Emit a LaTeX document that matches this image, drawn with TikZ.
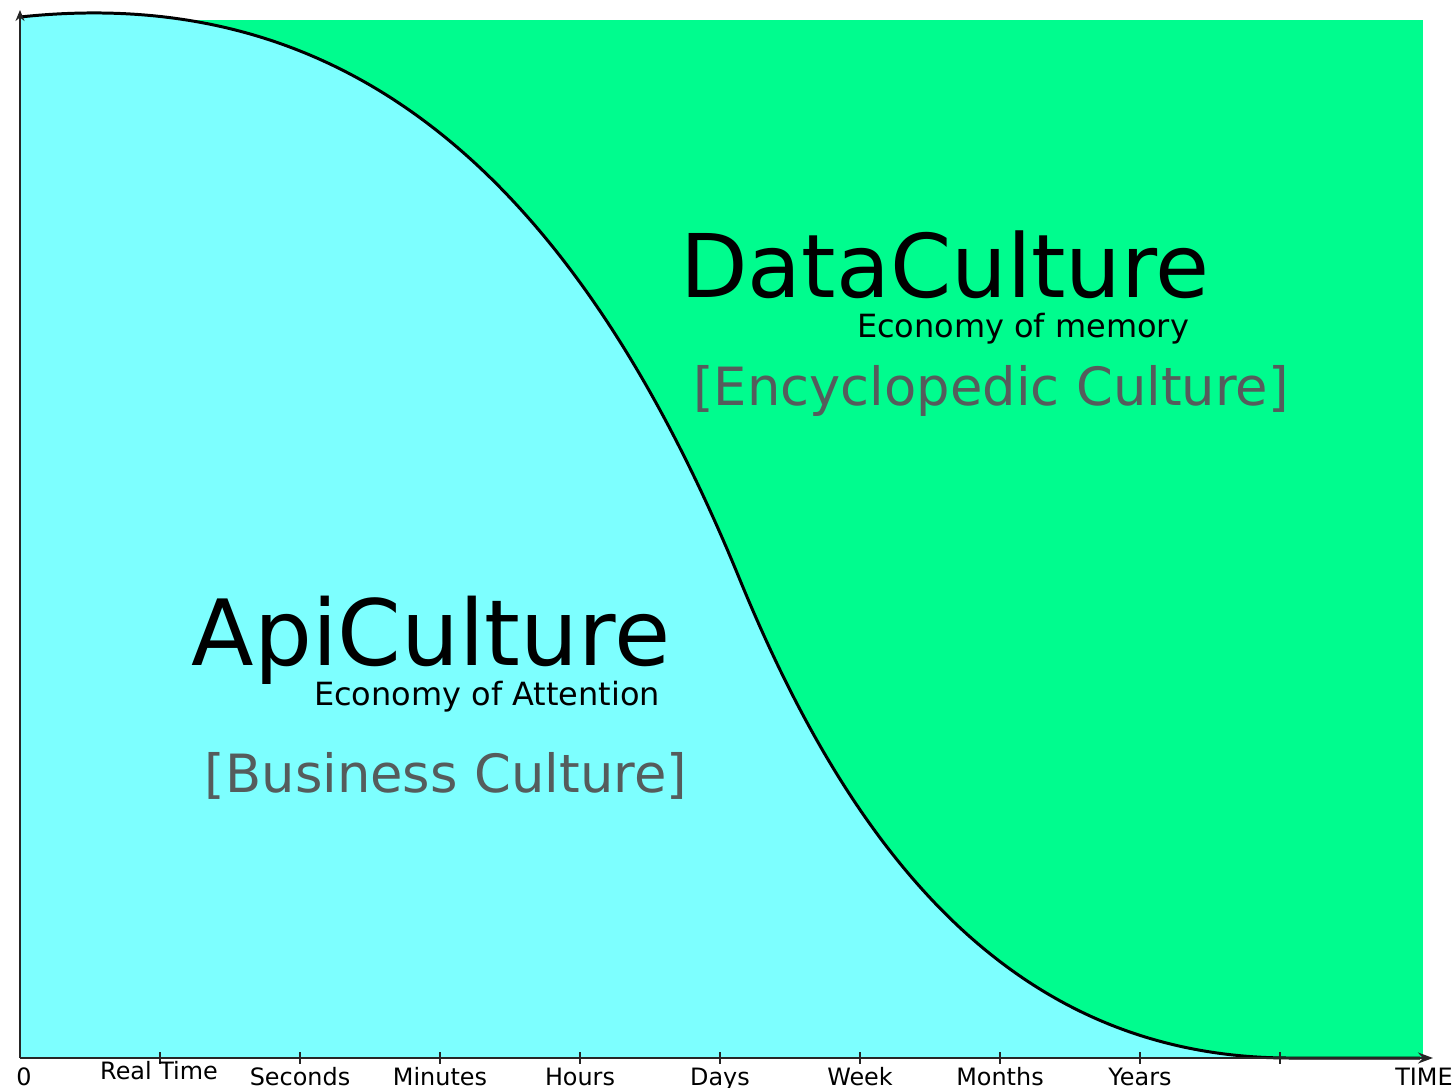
\documentclass[tikz,border=0pt]{standalone}
\usepackage{fontspec}
\setmainfont{DejaVu Sans}
\usetikzlibrary{arrows.meta}
\definecolor{cian}{RGB}{125,255,255}
\definecolor{verde}{RGB}{0,252,142}
\definecolor{grisT}{RGB}{85,92,92}
\tikzset{
    titulo/.style={inner sep=0pt,anchor=base,font=\fontsize{50}{50}\selectfont,text=black},
    subtit/.style={inner sep=0pt,anchor=base,font=\fontsize{18.2}{18}\selectfont,text=black},
    corchete/.style={inner sep=0pt,anchor=base,font=\fontsize{30}{30}\selectfont,text=grisT},
    etiq/.style={inner sep=0pt,anchor=base,font=\fontsize{13.6}{14}\selectfont,text=black},
    eje/.style={line width=1.2pt,black!85},
}
\begin{document}
\begin{tikzpicture}[x=0.02cm,y=-0.02cm]
\useasboundingbox (0,0) rectangle (1454,1088);
    %Puntos de la curva
    \coordinate (inicio) at (20,17);
    \coordinate (inflex) at (740,580);
    \coordinate (piso) at (1290,1058);
    \coordinate (final) at (1420,1058);

    %Fondo
    \fill[verde] (20,20) rectangle (1423,1058);
    \fill[cian] (20,1058) -- (inicio) .. controls (320,-15) and (560,140) .. (inflex)
        .. controls (850,848) and (1010,1058) .. (piso) -- (final) -- cycle;

    %Curva
    \draw[line width=1.7pt,black] (inicio) .. controls (320,-15) and (560,140) .. (inflex)
        .. controls (850,848) and (1010,1058) .. (piso) -- (final);

    %Ejes
    \coordinate (origen) at (20,1058);
    \coordinate (ytope) at (20,10);
    \coordinate (xfin) at (1433,1058);
    \draw[eje,-{Stealth[length=3mm,width=2.2mm]}] (origen) -- (xfin);
    \draw[eje,-{Stealth[length=2.2mm,width=1.8mm]}] (origen) -- (ytope);
    \foreach \x in {1,...,9}{
        \draw[eje,line width=1pt,shift={(20+140*\x,1058)}] (0,-6) -- (0,6);
    }

    %Etiquetas eje
    \node[etiq] (cero) at (24,1085) {0};
    \node[etiq] (real) at (159,1079) {Real Time};
    \foreach \t [count=\i] in {Seconds,Minutes,Hours,Days,Week,Months,Years}{
        \node[etiq] (lbl\i) at (160+140*\i,1085) {\t};
    }
    \node[etiq] (tiempo) at (1424,1085) {TIME};

    %Textos
    \node[titulo] (data) at (945,297) {DataCulture};
    \node[subtit] (memoria) at (1023,337) {Economy of memory};
    \node[corchete] (enciclo) at (991,405) {[Encyclopedic Culture]};
    \node[titulo,font=\fontsize{52}{52}\selectfont] (api) at (431,665) {ApiCulture};
    \node[subtit] (atencion) at (487,705) {Economy of Attention};
    \node[corchete] (negocio) at (446,792) {[Business Culture]};
\end{tikzpicture}
\end{document}
